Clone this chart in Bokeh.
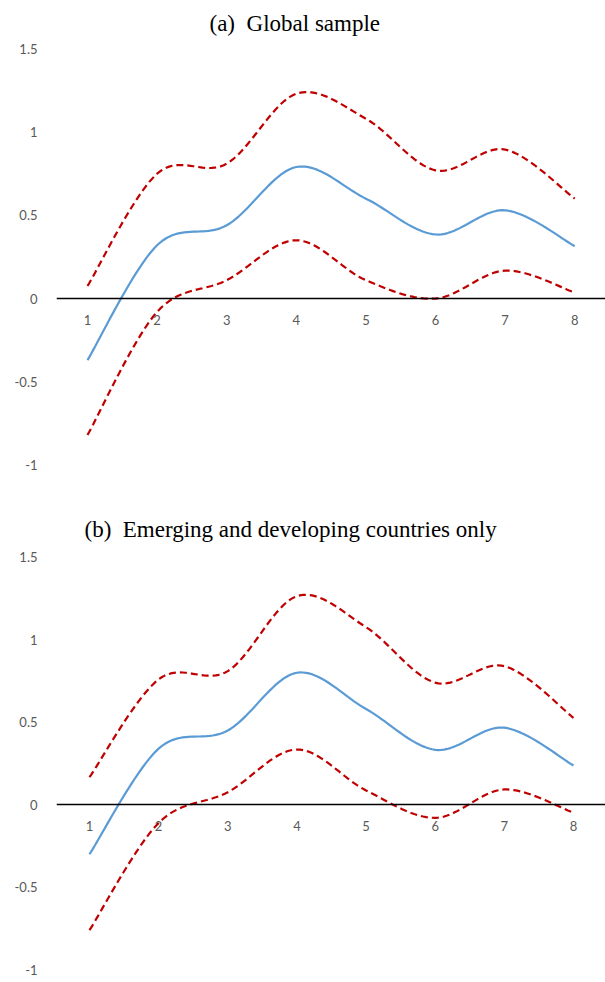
import numpy as np
from bokeh.plotting import figure
from bokeh.layouts import column
from bokeh.models import Range1d, FixedTicker, Title
from bokeh.embed import file_html
from bokeh.resources import INLINE

# ---- data ----
horizons = [1, 2, 3, 4, 5, 6, 7, 8]

est_a = [-0.37, 0.32, 0.44, 0.79, 0.60, 0.385, 0.53, 0.315]
upper_a = [0.075, 0.75, 0.81, 1.23, 1.08, 0.77, 0.895, 0.60]
lower_a = [-0.82, -0.08, 0.11, 0.35, 0.11, 0.0, 0.168, 0.036]

est_b = [-0.30, 0.34, 0.45, 0.80, 0.58, 0.333, 0.467, 0.238]
upper_b = [0.167, 0.76, 0.81, 1.264, 1.076, 0.74, 0.84, 0.527]
lower_b = [-0.76, -0.11, 0.076, 0.335, 0.087, -0.079, 0.093, -0.048]

y_ticks = [-1, -0.5, 0, 0.5, 1, 1.5]
y_tick_labels = ["-1", "-0.5", "0", "0.5", "1", "1.5"]

titles = ["(a)\u00a0\u00a0Global sample", "(b)\u00a0\u00a0Emerging and developing countries only"]


def smooth(xs, ys, n=24):
    """Excel-style smoothed line (Catmull-Rom Bezier through the points)."""
    P = np.column_stack([np.asarray(xs, float), np.asarray(ys, float)])
    m = len(P)
    ext = np.vstack([P[0], P, P[-1]])
    out = []
    t = np.linspace(0, 1, n)[:, None]
    for i in range(m - 1):
        p0, p1, p2, p3 = ext[i], ext[i + 1], ext[i + 2], ext[i + 3]
        c1 = p1 + (p2 - p0) / 6.0
        c2 = p2 - (p3 - p1) / 6.0
        seg = ((1 - t) ** 3) * p1 + 3 * ((1 - t) ** 2) * t * c1 + 3 * (1 - t) * t ** 2 * c2 + t ** 3 * p2
        if i > 0:
            seg = seg[1:]
        out.append(seg)
    pts = np.vstack(out)
    return pts[:, 0], pts[:, 1]


def panel(title, est, up, lo, x_rng, y_rng, fw, fh, left, top, bottom, t_off, t_stand):
    p = figure(frame_width=fw, frame_height=fh, output_backend="svg", toolbar_location=None,
               x_range=Range1d(*x_rng), y_range=Range1d(*y_rng),
               min_border_left=left, min_border_right=0, min_border_top=top,
               min_border_bottom=bottom, title=None)
    p.add_layout(Title(text=title, text_font="Liberation Serif", text_font_size="23px",
                       text_font_style="normal", text_color="#000000", align="left",
                       offset=t_off, standoff=t_stand), "above")
    p.outline_line_color = None
    p.grid.visible = False
    p.background_fill_color = "white"
    p.border_fill_color = "white"

    # y axis
    p.yaxis.ticker = FixedTicker(ticks=y_ticks)
    p.yaxis.major_label_overrides = {t: l for t, l in zip(y_ticks, y_tick_labels)}
    p.yaxis.axis_line_color = None
    p.yaxis.major_tick_line_color = None
    p.yaxis.minor_tick_line_color = None
    p.yaxis.major_tick_out = 0
    p.yaxis.major_label_standoff = 19
    p.yaxis.major_label_text_font = "Lato"
    p.yaxis.major_label_text_font_size = "13px"
    p.yaxis.major_label_text_color = "#595959"

    # x axis drawn at y = 0
    p.xaxis.fixed_location = 0
    p.xaxis.ticker = FixedTicker(ticks=horizons)
    p.xaxis.axis_line_color = "#000000"
    p.xaxis.axis_line_width = 1.5
    p.xaxis.major_tick_line_color = None
    p.xaxis.minor_tick_line_color = None
    p.xaxis.major_tick_out = 0
    p.xaxis.major_label_standoff = 16
    p.xaxis.major_label_text_font = "Lato"
    p.xaxis.major_label_text_font_size = "13px"
    p.xaxis.major_label_text_color = "#595959"

    for arr in (up, lo):
        sx, sy = smooth(horizons, arr)
        p.line(sx, sy, line_color="#C00000", line_width=2.2, line_dash="7 4")
    sx, sy = smooth(horizons, est)
    p.line(sx, sy, line_color="#5B9BD5", line_width=2.2)
    return p


pa = panel(titles[0], est_a, upper_a, lower_a, (0.5546, 8.442), (-1.129, 1.55),
           549, 446, 56, 40, 4, 153, 10)
pb = panel(titles[1], est_b, upper_b, lower_b, (0.5227, 8.463), (-1.065, 1.553),
           549, 432, 56, 58, 2, 28, 13)

layout = column(pa, pb, spacing=0)
open("out.html", "w").write(file_html(layout, INLINE))
